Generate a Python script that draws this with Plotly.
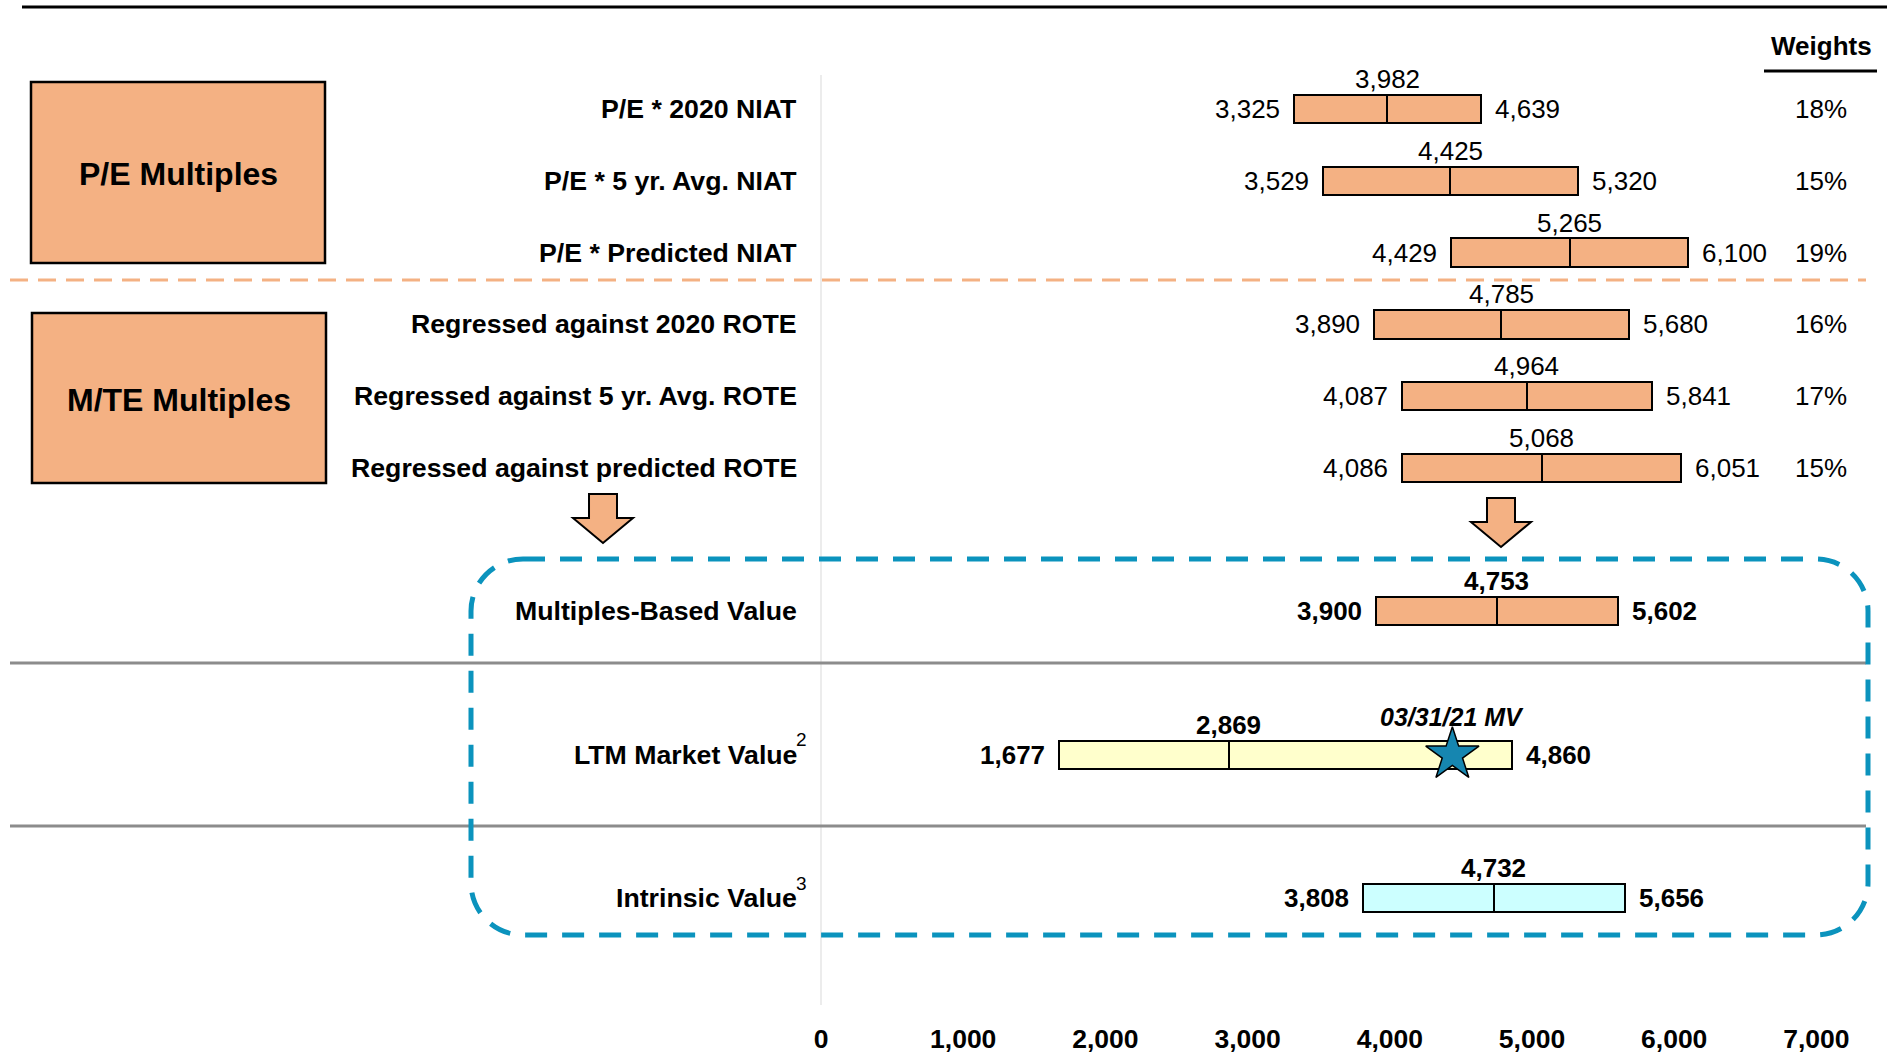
import plotly.graph_objects as go

# ---- data -------------------------------------------------------------
row_labels = [
    "P/E * 2020 NIAT",
    "P/E * 5 yr. Avg. NIAT",
    "P/E * Predicted NIAT",
    "Regressed against 2020 ROTE",
    "Regressed against 5 yr. Avg. ROTE",
    "Regressed against predicted ROTE",
    "Multiples-Based Value",
    "LTM Market Value",
    "Intrinsic Value",
]
row_pos = [0, 1, 2, 3, 4, 5, 7, 9, 11]
low_vals = [3325, 3529, 4429, 3890, 4087, 4086, 3900, 1677, 3808]
mid_vals = [3982, 4425, 5265, 4785, 4964, 5068, 4753, 2869, 4732]
high_vals = [4639, 5320, 6100, 5680, 5841, 6051, 5602, 4860, 5656]
weights = ["18%", "15%", "19%", "16%", "17%", "15%"]
market_value_date = "03/31/21 MV"
market_value = 4440
tick_vals = [0, 1000, 2000, 3000, 4000, 5000, 6000, 7000]

# ---- style -------------------------------------------------------------
ORANGE = "#F4B183"
YELLOW = "#FFFFCC"
CYAN = "#CCFFFF"
TEAL = "#0B93BD"
FONT = "Arial, Liberation Sans, sans-serif"
bar_colors = [ORANGE] * 7 + [YELLOW, CYAN]
bold_rows = [False] * 6 + [True] * 3

W, H = 1887, 1053
PLOT_H = 1020          # plot area height (bottom margin holds tick labels)
X0_PX, PX_PER_UNIT = 821.0, 0.1422
ROW0_PX, ROW_PX = 109.2, 71.73


def px(x):
    return x / W


def py(y):
    return 1 - y / PLOT_H


fig = go.Figure()

# range bars: low->mid and mid->high segments
fig.add_trace(go.Bar(
    y=row_pos, base=low_vals, x=[m - l for m, l in zip(mid_vals, low_vals)],
    orientation="h", width=0.395,
    marker=dict(color=bar_colors, line=dict(color="black", width=2)),
    hoverinfo="skip", showlegend=False,
))
fig.add_trace(go.Bar(
    y=row_pos, base=mid_vals, x=[h - m for h, m in zip(high_vals, mid_vals)],
    orientation="h", width=0.395,
    marker=dict(color=bar_colors, line=dict(color="black", width=2)),
    hoverinfo="skip", showlegend=False,
))

# market value star
fig.add_trace(go.Scatter(
    x=[market_value], y=[9], mode="markers",
    marker=dict(symbol="star", size=40, color="#1686B0",
                line=dict(color="black", width=1.5)),
    hoverinfo="skip", showlegend=False,
))

annotations = []
shapes = []

# value labels
for y, lo, mi, hi, bold in zip(row_pos, low_vals, mid_vals, high_vals, bold_rows):
    f = dict(family=FONT, size=26, color="black")
    fmt = (lambda v: f"<b>{v:,}</b>") if bold else (lambda v: f"{v:,}")
    annotations.append(dict(x=lo, y=y, xref="x", yref="y", text=fmt(lo),
                            xanchor="right", yanchor="middle", xshift=-12,
                            showarrow=False, font=f))
    annotations.append(dict(x=hi, y=y, xref="x", yref="y", text=fmt(hi),
                            xanchor="left", yanchor="middle", xshift=12,
                            showarrow=False, font=f))
    annotations.append(dict(x=mi, y=y, xref="x", yref="y", text=fmt(mi),
                            xanchor="center", yanchor="middle", yshift=30,
                            showarrow=False, font=f))

# row labels
for y, lab in zip(row_pos, row_labels):
    annotations.append(dict(x=px(799), y=y, xref="paper", yref="y",
                            text=f"<b>{lab}</b>", xanchor="right",
                            yanchor="middle", showarrow=False,
                            font=dict(family=FONT, size=26.7, color="black")))
# footnote markers
for y in (9, 11):
    annotations.append(dict(x=px(794), y=y, xref="paper", yref="y",
                            text="2" if y == 9 else "3", xanchor="left",
                            yanchor="middle", yshift=15, showarrow=False,
                            font=dict(family=FONT, size=19, color="black")))

# weights column
annotations.append(dict(x=px(1821), y=py(46), xref="paper", yref="paper",
                        text="<b>Weights</b>", xanchor="center",
                        yanchor="middle", showarrow=False,
                        font=dict(family=FONT, size=26, color="black")))
for y, w in zip(row_pos, weights):
    annotations.append(dict(x=px(1821), y=y, xref="paper", yref="y", text=w,
                            xanchor="center", yanchor="middle",
                            showarrow=False,
                            font=dict(family=FONT, size=26, color="black")))

# market value caption
annotations.append(dict(x=market_value, y=9, xref="x", yref="y",
                        text=f"<b><i>{market_value_date}</i></b>",
                        xanchor="center", yanchor="middle", yshift=38,
                        showarrow=False,
                        font=dict(family=FONT, size=25, color="black")))

# group boxes
for (x0, y0, x1, y1, ty, txt) in [(31, 82, 325, 263, 174, "P/E Multiples"),
                                  (32, 313, 326, 483, 400, "M/TE Multiples")]:
    shapes.append(dict(type="rect", xref="paper", yref="paper",
                       x0=px(x0), x1=px(x1), y0=py(y0), y1=py(y1),
                       fillcolor=ORANGE, line=dict(color="black", width=2.5),
                       layer="below"))
    annotations.append(dict(x=px((x0 + x1) / 2), y=py(ty), xref="paper",
                            yref="paper", text=f"<b>{txt}</b>",
                            xanchor="center", yanchor="middle",
                            showarrow=False,
                            font=dict(family=FONT, size=32, color="black")))

# top rule and weights underline
shapes.append(dict(type="line", xref="paper", yref="paper", x0=px(22),
                   x1=px(1887), y0=py(7), y1=py(7),
                   line=dict(color="black", width=3)))
shapes.append(dict(type="line", xref="paper", yref="paper", x0=px(1764),
                   x1=px(1877), y0=py(71), y1=py(71),
                   line=dict(color="black", width=3)))

# zero reference line
shapes.append(dict(type="line", xref="x", yref="paper", x0=0, x1=0,
                   y0=py(75), y1=py(1005),
                   line=dict(color="#D9D9D9", width=1), layer="below"))

# separators
shapes.append(dict(type="line", xref="paper", yref="paper", x0=px(10),
                   x1=px(1866), y0=py(280), y1=py(280),
                   line=dict(color=ORANGE, width=3, dash="18px,10px")))
for yy in (663, 826):
    shapes.append(dict(type="line", xref="paper", yref="paper", x0=px(10),
                       x1=px(1866), y0=py(yy), y1=py(yy),
                       line=dict(color="#8C8C8C", width=3)))


# down arrows
def arrow_path(cx, top, neck, tip, shaft_hw, head_hw):
    pts = [(cx - shaft_hw, top), (cx + shaft_hw, top), (cx + shaft_hw, neck),
           (cx + head_hw, neck), (cx, tip), (cx - head_hw, neck),
           (cx - shaft_hw, neck)]
    return "M " + " L ".join(f"{px(a):.5f},{py(b):.5f}" for a, b in pts) + " Z"


for cx, top, neck, tip in [(603, 494, 518, 543), (1501, 498, 522, 547)]:
    shapes.append(dict(type="path", xref="paper", yref="paper",
                       path=arrow_path(cx, top, neck, tip, 14, 30),
                       fillcolor=ORANGE, line=dict(color="black", width=2)))


# rounded dashed frame around the valuation summary
def rounded_rect(x0, y0, x1, y1, r):
    k = 0.5523 * r
    segs = [
        f"M {px(x0 + r)},{py(y0)}",
        f"L {px(x1 - r)},{py(y0)}",
        f"C {px(x1 - r + k)},{py(y0)} {px(x1)},{py(y0 + r - k)} {px(x1)},{py(y0 + r)}",
        f"L {px(x1)},{py(y1 - r)}",
        f"C {px(x1)},{py(y1 - r + k)} {px(x1 - r + k)},{py(y1)} {px(x1 - r)},{py(y1)}",
        f"L {px(x0 + r)},{py(y1)}",
        f"C {px(x0 + r - k)},{py(y1)} {px(x0)},{py(y1 - r + k)} {px(x0)},{py(y1 - r)}",
        f"L {px(x0)},{py(y0 + r)}",
        f"C {px(x0)},{py(y0 + r - k)} {px(x0 + r - k)},{py(y0)} {px(x0 + r)},{py(y0)}",
        "Z",
    ]
    return " ".join(segs)


shapes.append(dict(type="path", xref="paper", yref="paper",
                   path=rounded_rect(471, 559, 1868, 935, 52),
                   line=dict(color=TEAL, width=5, dash="22px,15px")))

x_lo = -X0_PX / PX_PER_UNIT
x_hi = (W - X0_PX) / PX_PER_UNIT
y_top = -ROW0_PX / ROW_PX
y_bot = (PLOT_H - ROW0_PX) / ROW_PX

fig.update_layout(
    width=W, height=H,
    margin=dict(l=0, r=0, t=0, b=H - PLOT_H),
    paper_bgcolor="white", plot_bgcolor="white",
    barmode="overlay", bargap=0,
    font=dict(family=FONT, color="black"),
    xaxis=dict(range=[x_lo, x_hi], tickvals=tick_vals,
               ticktext=[f"<b>{v:,}</b>" for v in tick_vals],
               showgrid=False, zeroline=False, showline=False, ticks="",
               tickfont=dict(family=FONT, size=26.5, color="black"),
               fixedrange=True),
    yaxis=dict(range=[y_bot, y_top], showgrid=False, zeroline=False,
               showline=False, showticklabels=False, ticks="",
               fixedrange=True),
    annotations=annotations,
    shapes=shapes,
)

fig.write_html("out.html")
